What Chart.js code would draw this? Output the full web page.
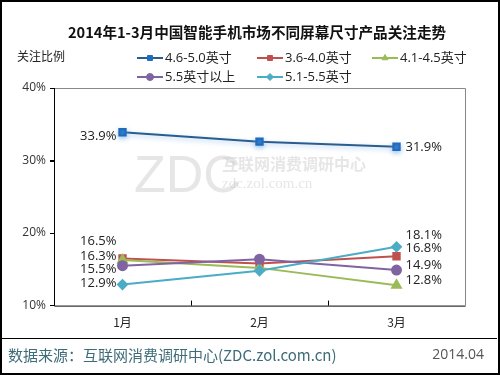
<!DOCTYPE html>
<html><head><meta charset="utf-8">
<script src="https://cdn.jsdelivr.net/npm/chart.js@4/dist/chart.umd.min.js"></script>
<style>html,body{margin:0;padding:0;background:#fff;}#wrap{width:500px;height:375px;position:relative;}</style>
</head><body><div id="wrap"><canvas id="c" width="500" height="375"></canvas></div>
<script>
const categories = ['1月', '2月', '3月'];
const seriesNames = ['4.6-5.0英寸', '3.6-4.0英寸', '4.1-4.5英寸', '5.5英寸以上', '5.1-5.5英寸'];
const s46_50 = [33.9, 32.6, 31.9];
const s36_40 = [16.5, 15.8, 16.8];
const s41_45 = [16.3, 15.2, 12.8];
const s55up  = [15.5, 16.4, 14.9];
const s51_55 = [12.9, 14.8, 18.1];
const yTicks = [10, 20, 30, 40];

const lineColors = ['#2a5d8f', '#c0504d', '#9bbb59', '#8064a2', '#4bacc6'];
const markColors = ['#1f6bbd', '#c0504d', '#9bbb59', '#8064a2', '#4bacc6'];
const styles = ['rect', 'rect', 'triangle', 'circle', 'rectRot'];
const allSeries = [s46_50, s36_40, s41_45, s55up, s51_55];
// label vertical nudges [first, last] for readability
const labelDy = [[4, 1], [-17, -8], [-4, -5], [4, -5], [-1, -12]];
const labelFont = '13px "Open Sans", "DejaVu Sans", sans-serif';

const datasets = allSeries.map((d, i) => ({
  label: seriesNames[i], data: d,
  borderColor: lineColors[i], backgroundColor: markColors[i],
  pointBackgroundColor: markColors[i], pointBorderColor: markColors[i],
  pointStyle: styles[i], pointRadius: i === 2 ? 5 : 4.5, borderWidth: 2, tension: 0,
  order: 5 - i
}));

const deco = {
  id: 'deco',
  beforeDatasetDraw(chart, args) {
    const ctx = chart.ctx;
    ctx.save();
    if (args.index === 0) {
      ctx.shadowColor = 'rgba(110,170,230,0.55)';
      ctx.shadowBlur = 5; ctx.shadowOffsetY = 2;
    }
  },
  afterDatasetDraw(chart) { chart.ctx.restore(); },
  beforeDraw(chart) {
    const ctx = chart.ctx;
    ctx.save();
    ctx.fillStyle = '#fff'; ctx.fillRect(0, 0, 500, 375);
    ctx.fillStyle = 'rgba(205,205,205,0.5)';
    ctx.font = '52px "Liberation Sans", sans-serif';
    ctx.textBaseline = 'alphabetic'; ctx.textAlign = 'left';
    ctx.fillText('ZDC', 134, 192);
    ctx.font = 'bold 16px "Noto Sans CJK SC", sans-serif';
    ctx.fillText('互联网消费调研中心', 222, 170);
    ctx.font = '15px "Liberation Serif", serif';
    ctx.fillText('zdc.zol.com.cn', 222, 188);
    ctx.restore();
  },
  afterDraw(chart) {
    const ctx = chart.ctx, a = chart.chartArea, xs = chart.scales.x, ys = chart.scales.y;
    ctx.save();
    ctx.strokeStyle = '#888'; ctx.lineWidth = 1;
    ctx.beginPath(); ctx.moveTo(a.left, a.top + 0.5); ctx.lineTo(a.right + 0.5, a.top + 0.5); ctx.lineTo(a.right + 0.5, a.bottom); ctx.stroke();
    ctx.strokeStyle = '#000';
    ctx.beginPath(); ctx.moveTo(a.left + 0.5, a.top); ctx.lineTo(a.left + 0.5, a.bottom + 0.5); ctx.lineTo(a.right + 0.5, a.bottom + 0.5); ctx.stroke();
    for (let i = 1; i < categories.length; i++) {
      const x = Math.round((xs.getPixelForValue(i - 1) + xs.getPixelForValue(i)) / 2) + 0.5;
      ctx.beginPath(); ctx.moveTo(x, a.bottom); ctx.lineTo(x, a.bottom - 5); ctx.stroke();
    }
    yTicks.slice(1, -1).forEach(v => {
      const y = Math.round(ys.getPixelForValue(v)) + 0.5;
      ctx.beginPath(); ctx.moveTo(a.left - 4, y); ctx.lineTo(a.left, y); ctx.stroke();
    });
    ctx.font = labelFont; ctx.fillStyle = '#222'; ctx.textBaseline = 'middle';
    chart.data.datasets.forEach((ds, i) => {
      const n = ds.data.length;
      const y0 = ys.getPixelForValue(ds.data[0]), y1 = ys.getPixelForValue(ds.data[n - 1]);
      ctx.textAlign = 'right';
      ctx.fillText(ds.data[0].toFixed(1) + '%', xs.getPixelForValue(0) - 6, y0 + labelDy[i][0]);
      ctx.textAlign = 'left';
      ctx.fillText(ds.data[n - 1].toFixed(1) + '%', xs.getPixelForValue(n - 1) + 9, y1 + labelDy[i][1]);
    });
    ctx.fillStyle = '#111'; ctx.textAlign = 'center'; ctx.textBaseline = 'middle';
    ctx.font = 'bold 14.6px "Noto Sans CJK SC", sans-serif';
    ctx.fillText('2014年1-3月中国智能手机市场不同屏幕尺寸产品关注走势', 257, 32);
    ctx.textAlign = 'left'; ctx.font = '12px "Noto Sans CJK SC", sans-serif'; ctx.fillStyle = '#222';
    ctx.fillText('关注比例', 17, 56);
    const pos = [[137, 58], [257, 58], [372, 58], [137, 77], [257, 77]];
    chart.data.datasets.forEach((ds, i) => {
      const [lx, ly] = pos[i];
      ctx.strokeStyle = ds.borderColor; ctx.lineWidth = 2;
      ctx.beginPath(); ctx.moveTo(lx, ly); ctx.lineTo(lx + 26, ly); ctx.stroke();
      ctx.fillStyle = ds.pointBackgroundColor; ctx.strokeStyle = ds.pointBorderColor; ctx.lineWidth = 1;
      Chart.helpers.drawPoint(ctx, { pointStyle: ds.pointStyle, radius: 3.5, borderWidth: 1 }, lx + 13, ly);
      ctx.fillStyle = '#222'; ctx.font = '13px "Open Sans", "Noto Sans CJK SC", sans-serif';
      ctx.textBaseline = 'middle';
      ctx.fillText(ds.label, lx + 28, ly);
    });
    ctx.strokeStyle = '#000'; ctx.lineWidth = 1;
    ctx.beginPath(); ctx.moveTo(0, 338.5); ctx.lineTo(497, 338.5); ctx.stroke();
    ctx.fillStyle = '#3d6b78'; ctx.font = '15px "Noto Sans CJK SC", sans-serif';
    ctx.textAlign = 'left';
    ctx.fillText('数据来源：互联网消费调研中心(ZDC.zol.com.cn)', 8, 355);
    ctx.textAlign = 'right'; ctx.fillStyle = '#555'; ctx.font = '14px "Open Sans", sans-serif';
    ctx.fillText('2014.04', 484, 355);
    ctx.strokeStyle = '#000'; ctx.lineWidth = 2;
    ctx.strokeRect(1, 1, 498, 373);
    ctx.restore();
  }
};

new Chart(document.getElementById('c'), {
  type: 'line',
  data: { labels: categories, datasets },
  options: {
    responsive: false, animation: false, devicePixelRatio: 1,
    layout: { padding: { top: 88, left: 0, right: 35, bottom: 35 } },
    plugins: { legend: { display: false }, tooltip: { enabled: false } },
    scales: {
      x: {
        offset: true,
        grid: { display: true, drawOnChartArea: false, drawTicks: false, lineWidth: 0 },
        border: { display: false },
        ticks: { color: '#222', font: { size: 12, family: '"Noto Sans CJK SC", sans-serif' }, padding: 10, maxRotation: 0, autoSkip: false }
      },
      y: {
        min: 10, max: 40,
        afterBuildTicks(s) { s.ticks = yTicks.map(v => ({ value: v })); },
        grid: { drawOnChartArea: false, drawTicks: true, tickLength: 4, color: '#000' },
        border: { display: false },
        ticks: { color: '#333', padding: 4, font: { size: 12, family: '"Open Sans", sans-serif' }, callback: v => v + '%' },
        afterFit(s) { s.width = 54; }
      }
    }
  },
  plugins: [deco]
});
</script></body></html>
